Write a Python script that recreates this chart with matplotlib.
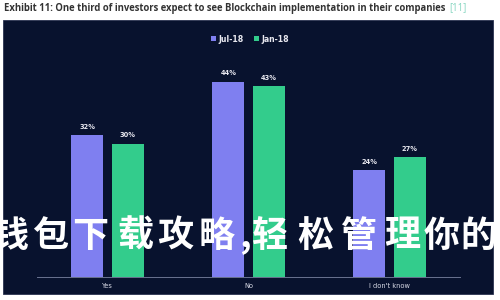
import matplotlib
matplotlib.use('Agg')
from matplotlib import pyplot as plt
from matplotlib.patches import Rectangle
import numpy as np

# data
categories = ['Yes', 'No', "I don't know"]
jul18 = [32, 44, 24]
jan18 = [30, 43, 27]
series_names = ['Jul-18', 'Jan-18']

navy = '#08122e'
purple = '#7f7ff0'
green = '#33cc8c'

fig = plt.figure(figsize=(5, 3), dpi=100)
fig.patch.set_facecolor('white')

# dark panel behind the chart
panel = Rectangle((3 / 500, 1 - 294 / 300), 490 / 500, 274 / 300,
                  transform=fig.transFigure, facecolor=navy,
                  edgecolor='#2a3350', linewidth=0.6, zorder=-5)
fig.add_artist(panel)

# title, sized to span the same width as in the reference
title = 'Exhibit 11: One third of investors expect to see Blockchain implementation in their companies'
t1 = fig.text(4 / 500, 1 - 8 / 300, title, fontsize=7, fontweight='bold',
              family='Open Sans', color='#333333', va='center', ha='left')
fig.canvas.draw()
wpx = t1.get_window_extent().width
t1.set_fontsize(7 * 444 / wpx)
fig.canvas.draw()
bb = t1.get_window_extent()
fig.text(bb.x1 / 500 + 0.008, 1 - 8 / 300, '[11]', fontsize=t1.get_fontsize(),
         family='Open Sans', color='#86d6c0', va='center', ha='left')

ax = fig.add_axes([37 / 500, 1 - 277 / 300, 423 / 500, 222 / 300])
ax.set_facecolor('none')
x = np.arange(len(categories))
w = 0.227
off = 0.142
b1 = ax.bar(x - off, jul18, w, color=purple, label=series_names[0])
b2 = ax.bar(x + off, jan18, w, color=green, label=series_names[1])
for bars, vals in ((b1, jul18), (b2, jan18)):
    for b, v in zip(bars, vals):
        ax.text(b.get_x() + b.get_width() / 2, v + 1.2, f'{v}%', ha='center',
                va='bottom', fontsize=4.8, fontweight='bold', color='#e8e8f0')

ax.set_xlim(-0.5, 2.5)
ax.set_ylim(0, 50)
ax.set_xticks(x)
ax.set_xticklabels(categories, fontsize=4.8, color='#d8dae6')
ax.tick_params(axis='x', length=0, pad=4)
ax.set_yticks([])
for s in ['top', 'right', 'left']:
    ax.spines[s].set_visible(False)
ax.spines['bottom'].set_color('#6a7290')
ax.spines['bottom'].set_linewidth(0.7)

fig.legend(loc='center', bbox_to_anchor=(0.5, 1 - 39 / 300), ncol=2,
           fontsize=5.6, frameon=False, labelcolor='#e8e8f0',
           prop={'weight': 'bold', 'size': 5.6},
           handlelength=0.6, handleheight=0.6, handletextpad=0.3,
           columnspacing=1.4)

# overlay text, one glyph at a time to keep the wide spacing
overlay = '钱包下载攻略,轻松管理你的'
centers = [10, 50, 90, 135, 175, 217, 245, 270, 315, 358, 402, 442, 478]
for ch, cx in zip(overlay, centers):
    fig.text(cx / 500, 1 - 236 / 300, ch,
             family=['Noto Sans CJK SC', 'DejaVu Sans'], fontweight='bold',
             fontsize=26, color='white', ha='center', va='center', zorder=10)

fig.savefig('out.png', dpi=100, facecolor='white')
